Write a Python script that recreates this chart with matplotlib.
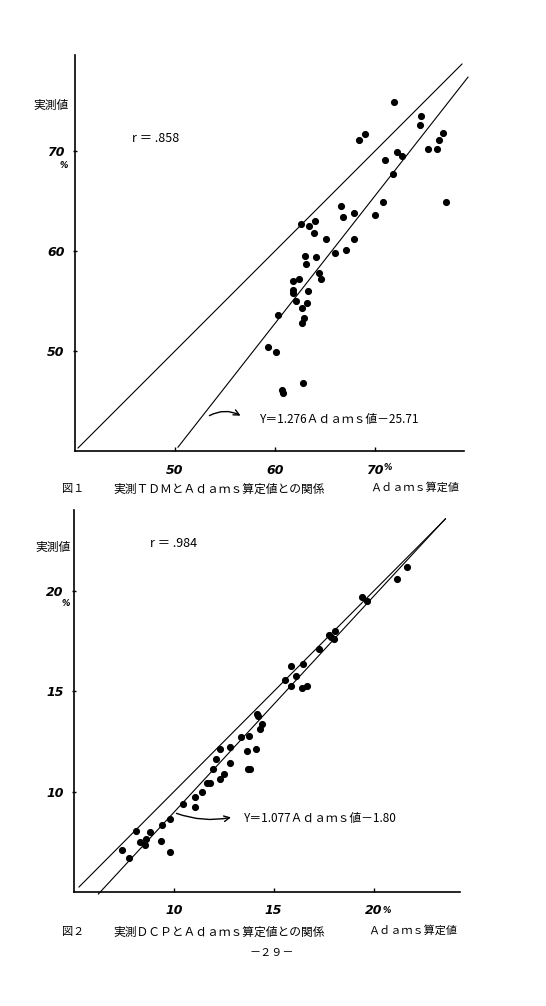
import numpy as np
import matplotlib.pyplot as plt

plt.rcParams['font.family'] = ['Noto Sans CJK JP', 'DejaVu Sans']

# 図1: TDM
tdm_adams = [71.9, 74.6, 74.5, 68.4, 69.0, 76.8, 76.4, 75.3, 76.2, 72.2, 72.7, 71.0,
             71.8, 77.1, 70.8, 70.0, 66.6, 66.8, 67.9, 62.6, 63.4, 64.0, 63.9, 65.1,
             67.9, 63.0, 64.1, 63.1, 66.0, 67.1, 64.4, 64.6, 61.8, 62.4, 61.8, 61.8,
             63.3, 62.1, 63.2, 62.7, 62.9, 62.7, 60.3, 59.3, 60.1, 62.8, 60.7, 60.8]
tdm_meas = [74.9, 73.5, 72.6, 71.1, 71.7, 71.8, 71.1, 70.2, 70.2, 69.9, 69.5, 69.1,
            67.7, 64.9, 64.9, 63.6, 64.5, 63.4, 63.8, 62.7, 62.5, 63.0, 61.8, 61.2,
            61.2, 59.5, 59.4, 58.7, 59.8, 60.1, 57.8, 57.2, 57.0, 57.2, 56.1, 55.8,
            56.0, 55.0, 54.8, 54.3, 53.3, 52.8, 53.6, 50.4, 49.9, 46.8, 46.1, 45.8]
tdm_r = ".858"
tdm_slope, tdm_icpt = 1.276, -23.8
tdm_eq = "Y＝1.276Ａｄａｍｓ値－25.71"

# 図2: DCP
dcp_adams = [21.69, 21.18, 19.40, 19.69, 18.07, 17.77, 17.89, 18.00, 17.27, 15.85,
             16.47, 16.10, 15.57, 15.87, 16.40, 16.69, 14.15, 14.22, 14.42, 14.29,
             13.35, 13.74, 13.64, 14.12, 12.82, 12.29, 12.10, 12.80, 11.94, 13.70,
             13.80, 12.49, 12.30, 11.67, 11.80, 11.39, 11.07, 11.07, 10.47, 9.79,
             9.39, 9.34, 9.79, 8.80, 8.09, 8.59, 8.29, 8.57, 7.39, 7.77]
dcp_meas = [21.20, 20.62, 19.70, 19.53, 18.00, 17.80, 17.72, 17.62, 17.10, 16.27,
            16.37, 15.77, 15.58, 15.27, 15.18, 15.27, 13.90, 13.80, 13.37, 13.12,
            12.75, 12.77, 12.05, 12.12, 12.22, 12.12, 11.63, 11.45, 11.12, 11.12,
            11.12, 10.90, 10.63, 10.45, 10.42, 9.97, 9.75, 9.25, 9.37, 8.63,
            8.35, 7.53, 6.97, 7.97, 8.05, 7.65, 7.50, 7.35, 7.07, 6.72]
dcp_r = ".984"
dcp_slope, dcp_icpt = 1.077, -1.80
dcp_eq = "Y＝1.077Ａｄａｍｓ値－1.80"

W, H = 546, 1006
fig = plt.figure(figsize=(W / 100, H / 100), dpi=100)


def ftext(x, y, s, **kw):
    fig.text(x / W, 1 - y / H, s, va='center', **kw)


def setup(ax, xlim, ylim, ticks):
    for s in ['top', 'right']:
        ax.spines[s].set_visible(False)
    for s in ['left', 'bottom']:
        ax.spines[s].set_linewidth(1.2)
    ax.set_xlim(*xlim)
    ax.set_ylim(*ylim)
    ax.set_xticks(ticks)
    ax.set_yticks(ticks)
    ax.set_xticklabels([str(t) for t in ticks], fontsize=9, fontweight='bold',
                       fontstyle='italic', family='DejaVu Sans')
    ax.set_yticklabels([str(t) for t in ticks], fontsize=9, fontweight='bold',
                       fontstyle='italic', family='DejaVu Sans')
    ax.tick_params(axis='x', direction='in', length=3, width=1, pad=9)
    ax.tick_params(axis='y', direction='inout', length=3, width=1, pad=6)


pct = dict(fontsize=6, fontweight='bold', fontstyle='italic',
           family='DejaVu Sans', ha='center')

# ---- top chart
ax1 = fig.add_axes([75 / W, 1 - 451 / H, 389 / W, 396 / H])
setup(ax1, (40, 78.9), (40, 79.6), [50, 60, 70])
x_id = np.array([40.3, 78.7])
ax1.plot(x_id, x_id, color='black', lw=0.8, clip_on=False)
x_fit = np.array([50.3, 79.3])
ax1.plot(x_fit, tdm_slope * x_fit + tdm_icpt, color='black', lw=0.8, clip_on=False)
ax1.scatter(tdm_adams, tdm_meas, s=17, color='black', zorder=3)
ax1.text(45.7, 71.3, "r ＝ " + tdm_r, fontsize=9, va='center')
ax1.annotate("", xy=(56.8, 43.4), xytext=(53.2, 43.4),
             arrowprops=dict(arrowstyle='->', color='black', lw=1,
                             connectionstyle='arc3,rad=-0.3'))
ax1.text(58.5, 43.1, tdm_eq, fontsize=8.5, va='center')
ax1.text(71.3, 38.3, "%", va='center', **pct)

ftext(64, 165, "%", **pct)
ftext(51, 105, "実測値", fontsize=8.5, ha='center')
ftext(62, 489, "図１", fontsize=8, ha='left')
ftext(113, 489, "実測ＴＤＭとＡｄａｍｓ算定値との関係", fontsize=8.5, ha='left')
ftext(370, 487, "Ａｄａｍｓ算定値", fontsize=8, ha='left')

# ---- bottom chart
ax2 = fig.add_axes([74 / W, 1 - 892 / H, 386 / W, 382 / H])
setup(ax2, (5, 24.33), (5, 24.05), [10, 15, 20])
x_id2 = np.array([5.25, 23.6])
ax2.plot(x_id2, x_id2, color='black', lw=0.8, clip_on=False)
x_fit2 = np.array([6.22, 23.6])
ax2.plot(x_fit2, dcp_slope * x_fit2 + dcp_icpt, color='black', lw=0.8, clip_on=False)
ax2.scatter(dcp_adams, dcp_meas, s=17, color='black', zorder=3)
ax2.text(8.79, 22.4, "r ＝ " + dcp_r, fontsize=9, va='center')
ax2.annotate("", xy=(13.0, 8.75), xytext=(10.0, 8.97),
             arrowprops=dict(arrowstyle='->', color='black', lw=1,
                             connectionstyle='arc3,rad=0.15'))
ax2.text(13.49, 8.67, dcp_eq, fontsize=8.5, va='center')
ax2.text(20.65, 4.1, "%", va='center', **pct)

ftext(66, 603, "%", **pct)
ftext(53, 547, "実測値", fontsize=8.5, ha='center')
ftext(62, 932, "図２", fontsize=8, ha='left')
ftext(113, 932, "実測ＤＣＰとＡｄａｍｓ算定値との関係", fontsize=8.5, ha='left')
ftext(368, 930, "Ａｄａｍｓ算定値", fontsize=8, ha='left')
ftext(272, 953, "－２９－", fontsize=8, ha='center')

fig.savefig('out.png', dpi=100, facecolor='white')
